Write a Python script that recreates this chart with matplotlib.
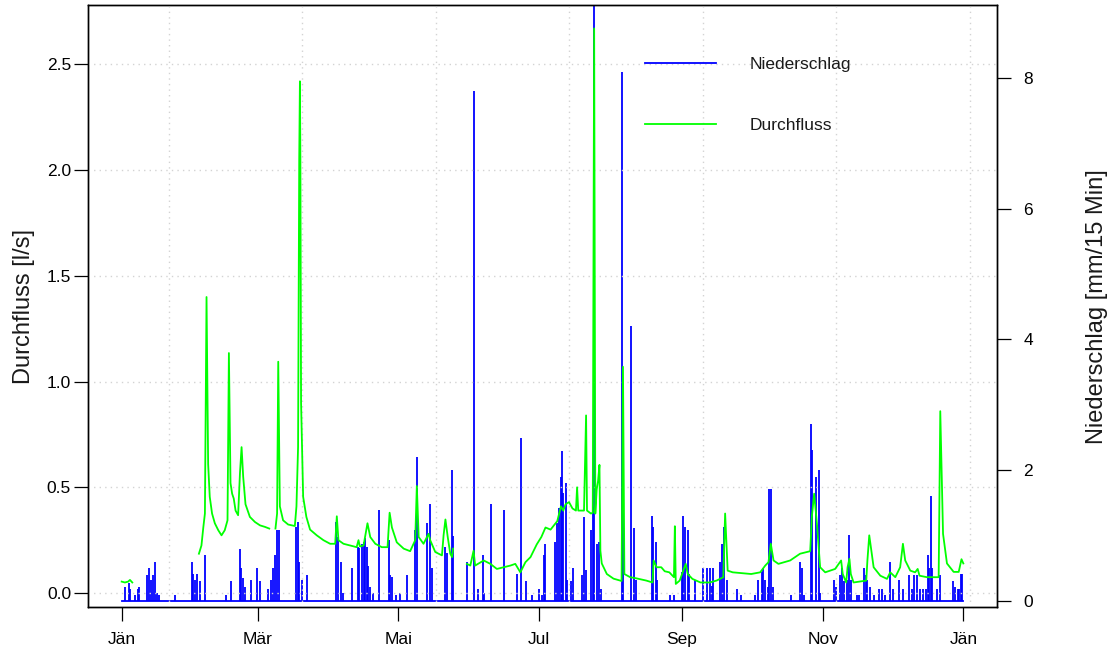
import numpy as np
import matplotlib.pyplot as plt
from matplotlib.lines import Line2D

# Durchfluss [l/s] -- Tag im Jahr und Wert, nan = Messluecke
q_tag = [0.0, 1.4, 2.8, 3.6, 4.6, 5.0,
         33.5, 34.6, 35.4, 36.1, 36.8, 37.5, 38.2, 39.2, 40.4, 41.9,
         43.3, 44.7, 45.9, 46.5, 47.2, 47.9, 48.6, 49.4, 50.5, 51.3,
         52.0, 52.7, 53.7, 55.6, 57.8, 60.0, 62.1, 64.0, 65.0,
         66.7, 67.4, 67.9, 68.6, 70.0, 72.2, 75.1, 75.8, 76.5, 77.0,
         77.3, 77.5, 77.8, 78.7, 80.1, 81.7, 84.6, 87.5, 90.4, 92.6,
         93.3, 94.0, 96.2, 99.1, 101.9, 102.7, 103.3, 104.9, 106.6, 107.8,
         110.0, 112.8, 115.3, 116.2, 117.2, 119.3, 122.3, 125.1, 127.3, 128.0,
         128.8, 130.9, 132.4, 133.1, 133.8, 136.0, 138.9, 139.6, 140.4, 141.4,
         142.5, 143.3, 143.7, 146.0,
         149.7, 151.2, 152.6, 153.3, 157.0, 159.9, 162.7, 165.6, 168.6, 170.7,
         172.9, 175.1, 177.3, 180.0, 182.0, 183.8, 186.0, 188.9, 190.5, 191.5,
         192.5, 194.0, 195.5, 197.0, 197.5, 198.0, 200.5, 201.4, 201.8, 203.5,
         204.3, 204.9, 205.4, 206.0, 206.6, 207.2, 207.6, 208.2, 210.4, 213.3,
         216.8, 217.4, 218.0, 220.5, 223.0, 227.5, 230.2, 230.7, 232.0, 234.0,
         235.5, 237.5, 239.5, 239.9, 240.3, 242.0, 244.6, 245.5, 247.5, 251.0,
         255.0, 258.0, 260.9, 261.7, 262.8, 265.0, 269.0, 273.0, 276.9, 279.1,
         280.5, 281.5, 282.7, 284.8, 289.9, 294.2, 298.6, 299.3, 300.3, 301.5,
         302.9, 305.1, 309.4, 312.0, 312.7, 314.2, 314.8, 315.6, 316.2, 317.4,
         322.9, 323.4, 324.2, 326.1, 329.0, 331.9, 333.3, 335.5, 337.6, 338.8,
         339.8, 342.0, 344.1, 345.2, 346.0, 349.2, 354.3, 355.0, 356.2, 357.9,
         360.8, 363.0, 364.2, 365.0]
q_wert = [0.054, 0.05, 0.054, 0.062, 0.05, np.nan,
          0.186, 0.225, 0.31, 0.376, 1.40, 0.61, 0.455, 0.376, 0.33, 0.297,
          0.273, 0.297, 0.344, 1.135, 0.52, 0.47, 0.447, 0.39, 0.368, 0.567,
          0.69, 0.55, 0.42, 0.36, 0.336, 0.32, 0.313, 0.305, np.nan,
          0.305, 0.376, 1.094, 0.41, 0.344, 0.324, 0.317, 0.41, 0.69, 2.05,
          2.42, 2.05, 0.9, 0.455, 0.36, 0.30, 0.273, 0.25, 0.233, 0.233,
          0.363, 0.25, 0.233, 0.225, 0.217, 0.25, 0.22, 0.225, 0.33, 0.265,
          0.233, 0.217, 0.217, 0.38, 0.31, 0.24, 0.21, 0.198, 0.25, 0.506,
          0.265, 0.233, 0.265, 0.28, 0.25, 0.194, 0.178, 0.273, 0.348, 0.265,
          0.186, 0.17, 0.21, np.nan,
          0.138, 0.13, 0.2, 0.13, 0.154, 0.138, 0.114, 0.122, 0.13, 0.138,
          0.098, 0.146, 0.17, 0.23, 0.265, 0.31, 0.30, 0.34, 0.41, 0.39,
          0.42, 0.43, 0.40, 0.39, 0.50, 0.39, 0.39, 0.84, 0.39, 0.376,
          0.38, 2.67, 0.376, 0.49, 0.53, 0.606, 0.20, 0.14, 0.09, 0.068,
          0.057, 1.07, 0.09, 0.075, 0.07, 0.059, 0.05, 0.154, 0.122, 0.122,
          0.103, 0.098, 0.075, 0.316, 0.043, 0.059, 0.138, 0.09, 0.067, 0.05,
          0.05, 0.059, 0.075, 0.376, 0.106, 0.098, 0.094, 0.09, 0.098, 0.13,
          0.146, 0.233, 0.154, 0.138, 0.154, 0.186, 0.198, 0.36, 0.47, 0.33,
          0.122, 0.098, 0.114, 0.154, 0.09, 0.05, 0.122, 0.162, 0.09, 0.05,
          0.059, 0.154, 0.273, 0.122, 0.082, 0.067, 0.098, 0.075, 0.122, 0.233,
          0.154, 0.106, 0.098, 0.114, 0.082, 0.075, 0.075, 0.86, 0.28, 0.14,
          0.10, 0.10, 0.16, 0.14]

# Niederschlag [mm/15 Min] -- Tag im Jahr und Wert der einzelnen Ereignisse
n_tag = [1.4, 3.3, 3.8, 5.7, 6.9, 7.4, 10.8, 11.9, 12.6, 13.7,
         14.5, 15.4, 16.3, 23.3, 30.3, 31.0, 31.7, 32.5, 33.9, 36.1,
         45.2, 47.6, 51.4, 51.9, 52.7, 53.4, 56.0, 58.9, 60.2, 63.5,
         64.7, 65.7, 66.7, 67.4, 68.2, 75.8, 76.5, 77.0, 78.0, 80.4,
         93.0, 93.6, 95.0, 96.2, 99.8, 102.3, 103.1, 104.4, 105.0, 105.7,
         106.3, 107.0, 107.8, 109.2, 111.7, 116.0, 116.4, 117.2, 119.0, 120.8,
         123.7, 127.0, 127.9, 132.3, 133.8, 134.7, 140.1, 141.0, 143.3, 143.9,
         149.7, 152.6, 154.4, 156.6, 157.2, 160.1, 166.0, 171.4, 173.0, 175.4,
         177.9, 180.8, 182.2, 183.2, 183.6, 188.0, 188.7, 189.7, 190.4, 191.0,
         191.6, 192.6, 193.3, 194.8, 195.6, 199.5, 200.7, 201.4, 203.6, 204.3,
         204.8, 206.0, 206.8, 207.8, 217.0, 217.6, 220.9, 222.2, 223.1, 229.9,
         230.6, 231.6, 232.1, 237.6, 239.6, 242.9, 243.6, 244.4, 245.4, 246.2,
         248.5, 252.3, 253.8, 255.2, 255.9, 256.6, 259.5, 260.3, 261.3, 262.4,
         266.8, 268.5, 274.7, 276.0, 277.6, 278.3, 279.1, 280.1, 280.8, 281.7,
         282.4, 290.2, 294.2, 295.0, 296.0, 299.0, 299.5, 301.2, 302.4, 303.0,
         309.0, 309.9, 311.3, 312.3, 313.3, 314.5, 315.6, 316.2, 318.8, 319.9,
         322.0, 322.8, 323.4, 324.6, 326.3, 328.6, 329.6, 331.1, 333.3, 334.7,
         337.3, 338.7, 341.6, 342.6, 343.6, 345.1, 346.3, 347.4, 348.9, 349.6,
         350.2, 350.9, 351.6, 353.5, 355.0, 360.7, 361.5, 362.5, 363.2, 363.9,
         364.4]
n_wert = [0.21, 0.27, 0.19, 0.09, 0.19, 0.21, 0.40, 0.50, 0.33, 0.40,
          0.60, 0.12, 0.09, 0.10, 0.60, 0.41, 0.32, 0.41, 0.30, 0.70,
          0.10, 0.30, 0.80, 0.50, 0.35, 0.22, 0.33, 0.50, 0.30, 0.19,
          0.32, 0.50, 0.70, 1.09, 1.09, 1.14, 1.21, 0.60, 0.32, 0.40,
          1.21, 0.98, 0.60, 0.12, 0.50, 0.83, 0.81, 0.88, 0.91, 0.96,
          0.83, 0.53, 0.22, 0.12, 1.40, 0.93, 0.40, 0.37, 0.10, 0.12,
          0.40, 1.09, 2.20, 1.20, 1.49, 0.50, 0.83, 0.73, 2.00, 1.00,
          0.60, 7.80, 0.19, 0.70, 0.12, 1.49, 1.40, 0.41, 2.50, 0.30,
          0.09, 0.19, 0.09, 0.70, 0.88, 0.91, 1.19, 1.42, 1.90, 2.30,
          1.65, 1.80, 0.32, 0.30, 0.50, 0.40, 1.29, 0.47, 1.09, 1.44,
          10.5, 0.88, 0.91, 0.19, 8.09, 1.39, 4.20, 1.11, 0.32, 1.30,
          1.14, 0.91, 0.32, 0.09, 0.09, 0.45, 1.30, 1.14, 1.09, 0.41,
          0.32, 0.50, 0.50, 0.50, 0.23, 0.50, 0.60, 0.88, 1.14, 0.32,
          0.19, 0.09, 0.09, 0.32, 0.45, 0.50, 0.32, 0.22, 1.71, 1.71,
          0.22, 0.09, 0.60, 0.50, 0.09, 2.71, 2.31, 1.90, 2.00, 0.12,
          0.32, 0.22, 0.40, 0.50, 0.30, 0.32, 1.01, 0.32, 0.09, 0.09,
          0.50, 0.40, 0.32, 0.22, 0.09, 0.19, 0.19, 0.09, 0.60, 0.19,
          0.32, 0.19, 0.40, 0.19, 0.40, 0.40, 0.19, 0.19, 0.19, 0.70,
          0.50, 1.60, 0.50, 0.19, 0.40, 0.30, 0.22, 0.19, 0.19, 0.41,
          0.41]

zeitraum = [0, 365]
monat_tag = [0, 59, 120, 181, 243, 304, 365]
monat_name = ['Jän', 'Mär', 'Mai', 'Jul', 'Sep', 'Nov', 'Jän']
q_ticks = [0.0, 0.5, 1.0, 1.5, 2.0, 2.5]
n_ticks = [0, 2, 4, 6, 8]

plt.rcParams['font.family'] = ['Liberation Sans', 'DejaVu Sans']
plt.rcParams['text.color'] = '#1a1a1a'

blau = '#0000ff'
gruen = '#00ff00'
grau = '#d3d3d3'

fig = plt.figure(figsize=(11.12, 6.51), dpi=100)
ax = fig.add_axes([88 / 1112, 44 / 651, 909 / 1112, 602 / 651])
ax2 = ax.twinx()
ax.set_zorder(ax2.get_zorder() + 1)   # Durchfluss ueber Niederschlag
ax.patch.set_visible(False)

# Niederschlag als Stabdiagramm (rechte Achse)
ax2.plot(zeitraum, [0, 0], color=blau, lw=1.3)
ax2.vlines(n_tag, 0, n_wert, color=blau, lw=1.3)
ax2.set_ylim(-0.09, 9.11)
ax2.set_yticks(n_ticks)
ax2.tick_params(axis='y', length=10, width=0.9, pad=9, labelsize=12.5)

# Gitter
ax.set_yticks(q_ticks, [f'{v:.1f}' for v in q_ticks])
ax.grid(axis='y', color=grau, ls=(0, (1, 3)), lw=1)
for d in np.arange(20.5, 370, 57.87):
    ax.axvline(d, color=grau, ls=(0, (1, 3)), lw=1, zorder=0)

# Durchfluss (linke Achse)
ax.plot(q_tag, q_wert, color=gruen, lw=1.3)
ax.set_ylim(-0.066, 2.781)
ax.set_xlim(-14.6, 379.6)
ax.set_xticks(monat_tag, monat_name)
ax.tick_params(axis='y', length=10, width=0.9, pad=2.2, labelsize=12.5)
ax.tick_params(axis='x', length=10, width=0.9, pad=8, labelsize=12.5)

for a in (ax, ax2):
    for s in a.spines.values():
        s.set_linewidth(1.0)

fig.text(24 / 1112, 1 - 306 / 651, 'Durchfluss [l/s]', rotation=90,
         ha='center', va='center', fontsize=17)
fig.text(1097 / 1112, 1 - 307 / 651, 'Niederschlag [mm/15 Min]', rotation=90,
         ha='center', va='center', fontsize=17)

handles = [Line2D([], [], color=blau, lw=1.3), Line2D([], [], color=gruen, lw=1.3)]
ax.legend(handles, ['Niederschlag', 'Durchfluss'], loc='upper left',
          bbox_to_anchor=(645 / 1112, 1 - 57 / 651), bbox_transform=fig.transFigure,
          frameon=False, borderpad=0, borderaxespad=0, handlelength=4.08,
          handletextpad=1.95, labelspacing=2.64, fontsize=12.5)

plt.savefig('out.png', dpi=100)
